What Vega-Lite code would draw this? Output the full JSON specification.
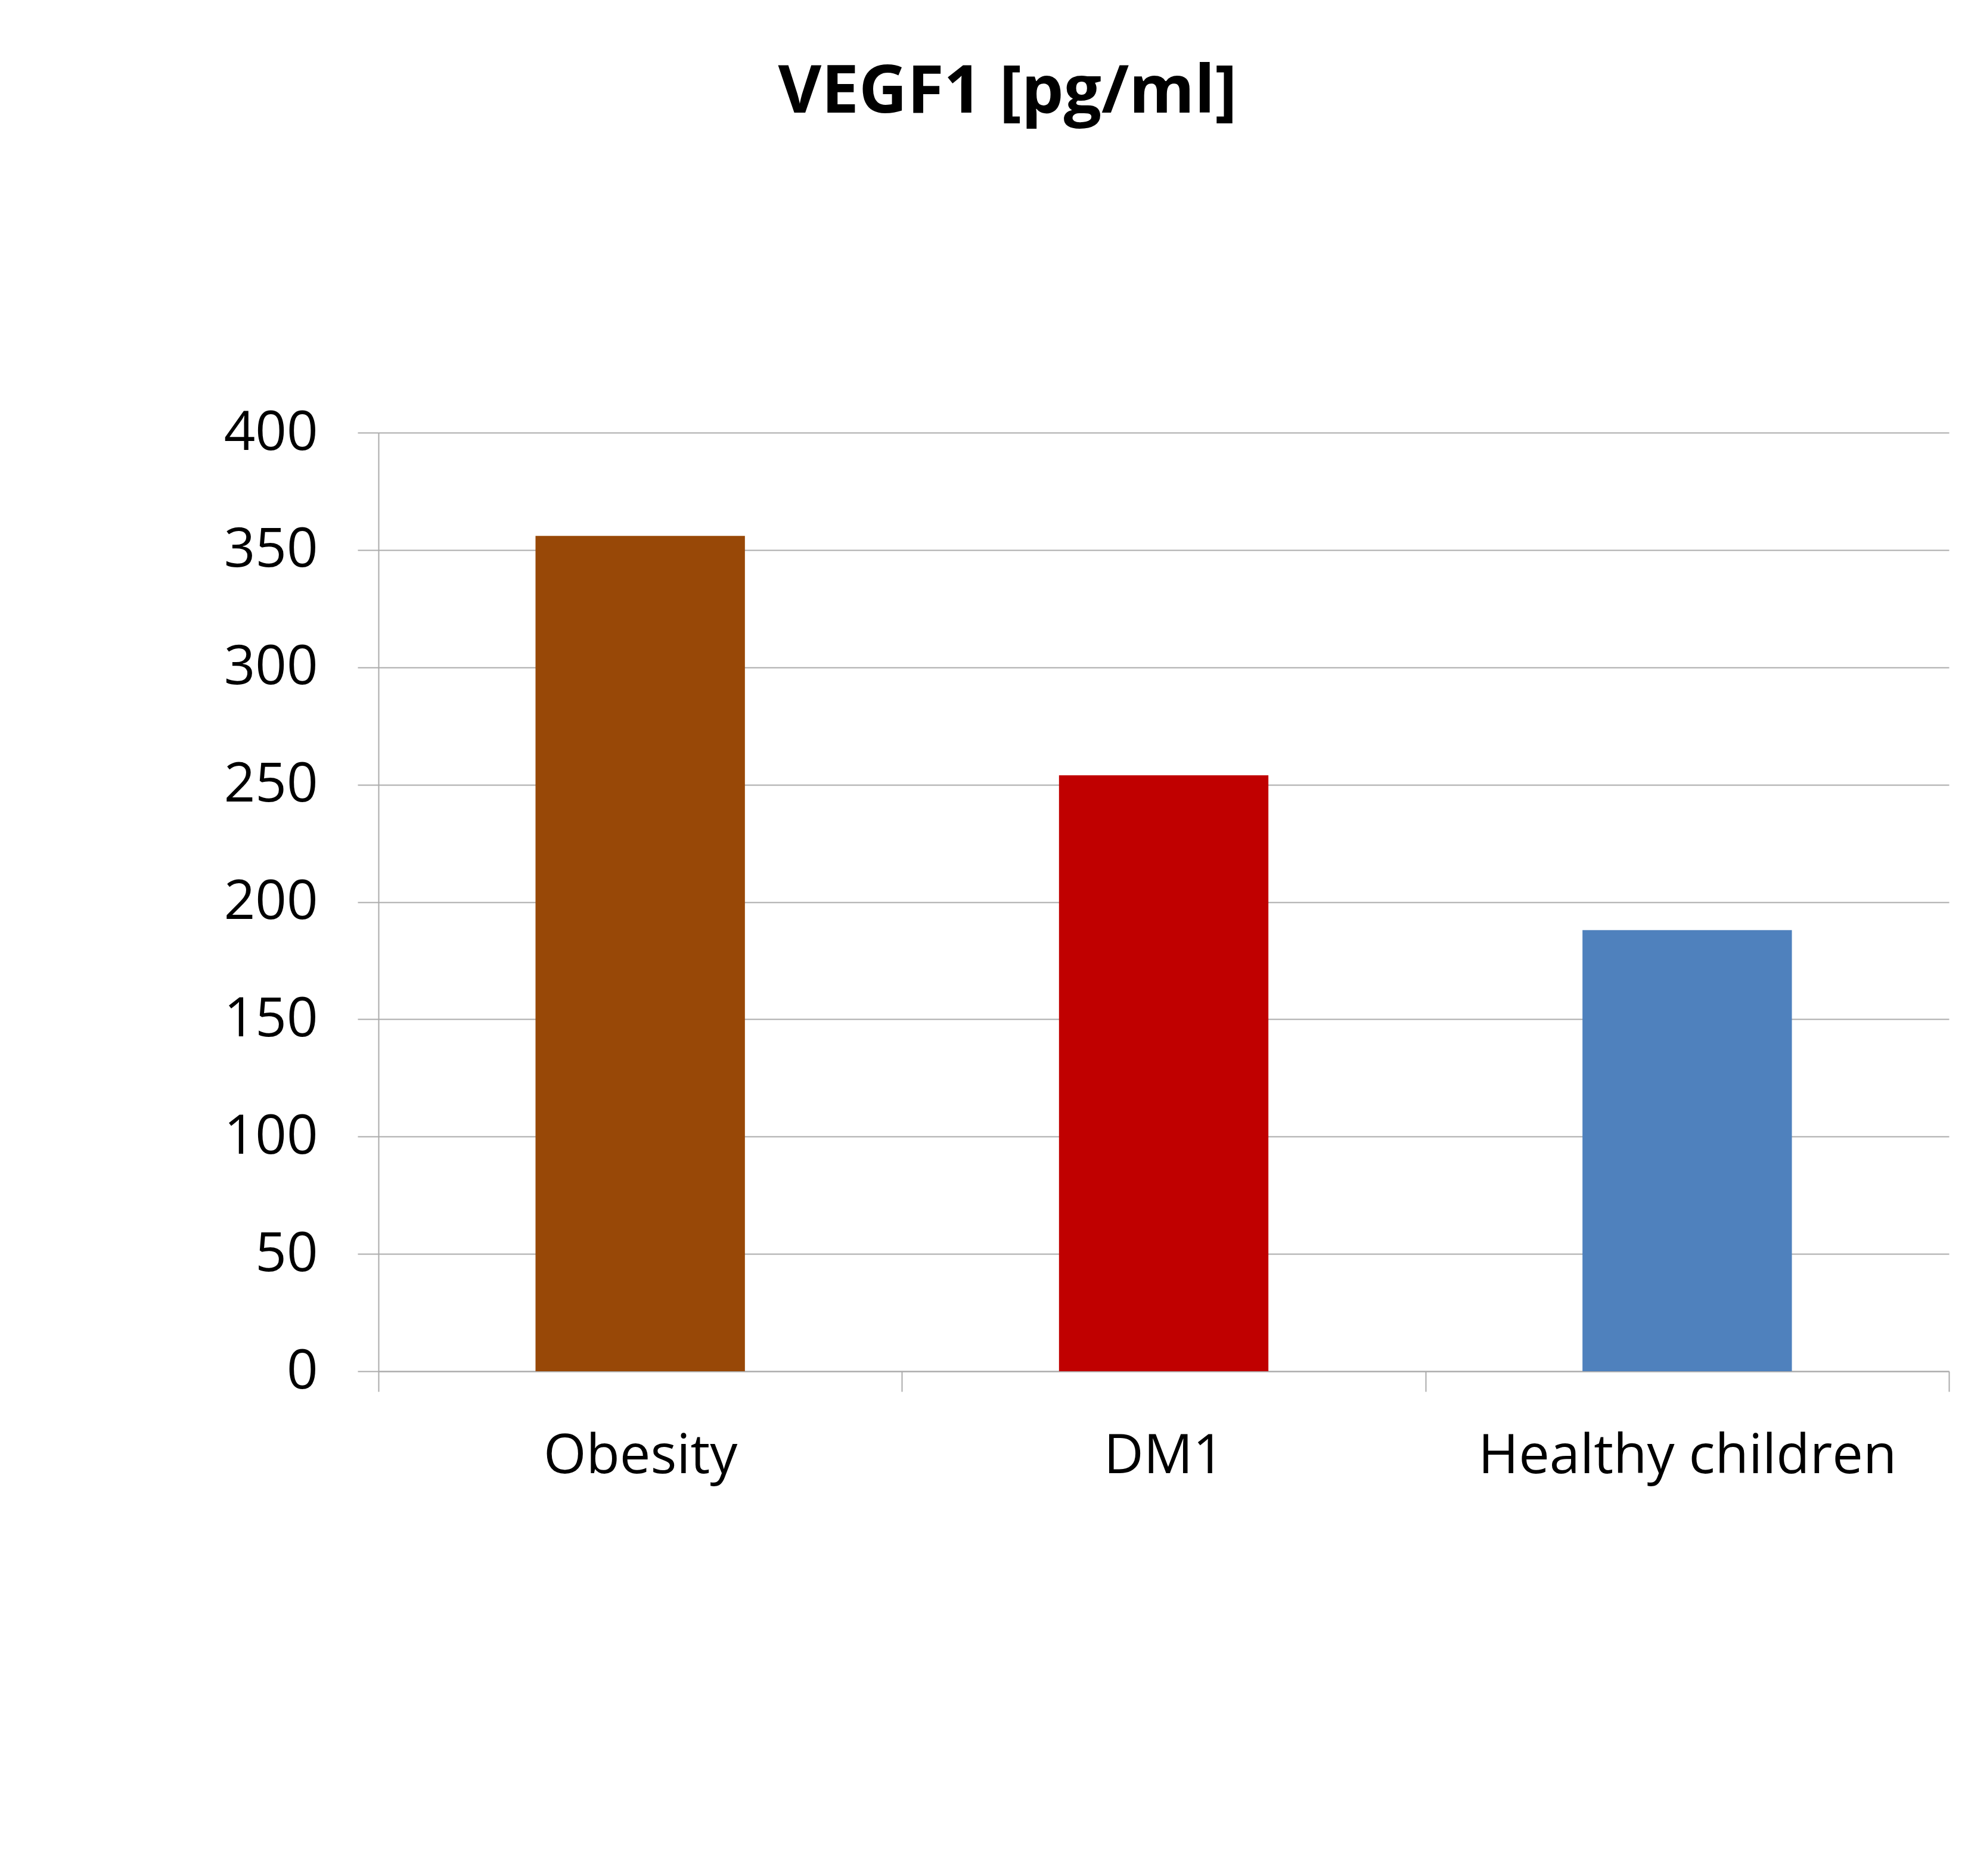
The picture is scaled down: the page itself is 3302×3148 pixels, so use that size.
{
  "$schema": "https://vega.github.io/schema/vega-lite/v6.json",
  "autosize": {"type": "none"},
  "padding": {"left": 635, "top": 726, "right": 32, "bottom": 848},
  "width": 2635,
  "height": 1575,
  "background": "white",
  "title": {
    "text": "VEGF1 [pg/ml]",
    "font": "Open Sans",
    "fontSize": 112,
    "fontWeight": "bold",
    "color": "black",
    "anchor": "middle",
    "frame": "group",
    "dx": -262,
    "offset": 467
  },
  "data": {
    "values": [
      {"group": "Obesity", "value": 356},
      {"group": "DM1", "value": 254},
      {"group": "Healthy children", "value": 188}
    ]
  },
  "mark": {"type": "bar", "width": {"band": 0.4}},
  "encoding": {
    "x": {
      "field": "group",
      "type": "nominal",
      "sort": null,
      "scale": {"paddingInner": 0, "paddingOuter": 0},
      "axis": {
        "title": null,
        "labelAngle": 0,
        "labelFont": "Open Sans",
        "labelFontSize": 92,
        "labelColor": "black",
        "labelPadding": 63,
        "labelLimit": 0,
        "tickBand": "extent",
        "tickSize": 34,
        "tickColor": "#ABABAB",
        "tickWidth": 2,
        "domainColor": "#ABABAB",
        "domainWidth": 2,
        "grid": false
      }
    },
    "y": {
      "field": "value",
      "type": "quantitative",
      "scale": {"domain": [0, 400], "nice": false},
      "axis": {
        "title": null,
        "values": [0, 50, 100, 150, 200, 250, 300, 350, 400],
        "labelFont": "Open Sans",
        "labelFontSize": 92,
        "labelColor": "black",
        "labelPadding": 67,
        "tickSize": 35,
        "tickColor": "#ABABAB",
        "tickWidth": 2,
        "domainColor": "#ABABAB",
        "domainWidth": 2,
        "grid": true,
        "gridColor": "#ABABAB",
        "gridWidth": 2
      }
    },
    "color": {
      "field": "group",
      "type": "nominal",
      "scale": {
        "domain": ["Obesity", "DM1", "Healthy children"],
        "range": ["#984807", "#C00000", "#4F81BD"]
      },
      "legend": null
    }
  },
  "config": {"view": {"stroke": null}}
}
